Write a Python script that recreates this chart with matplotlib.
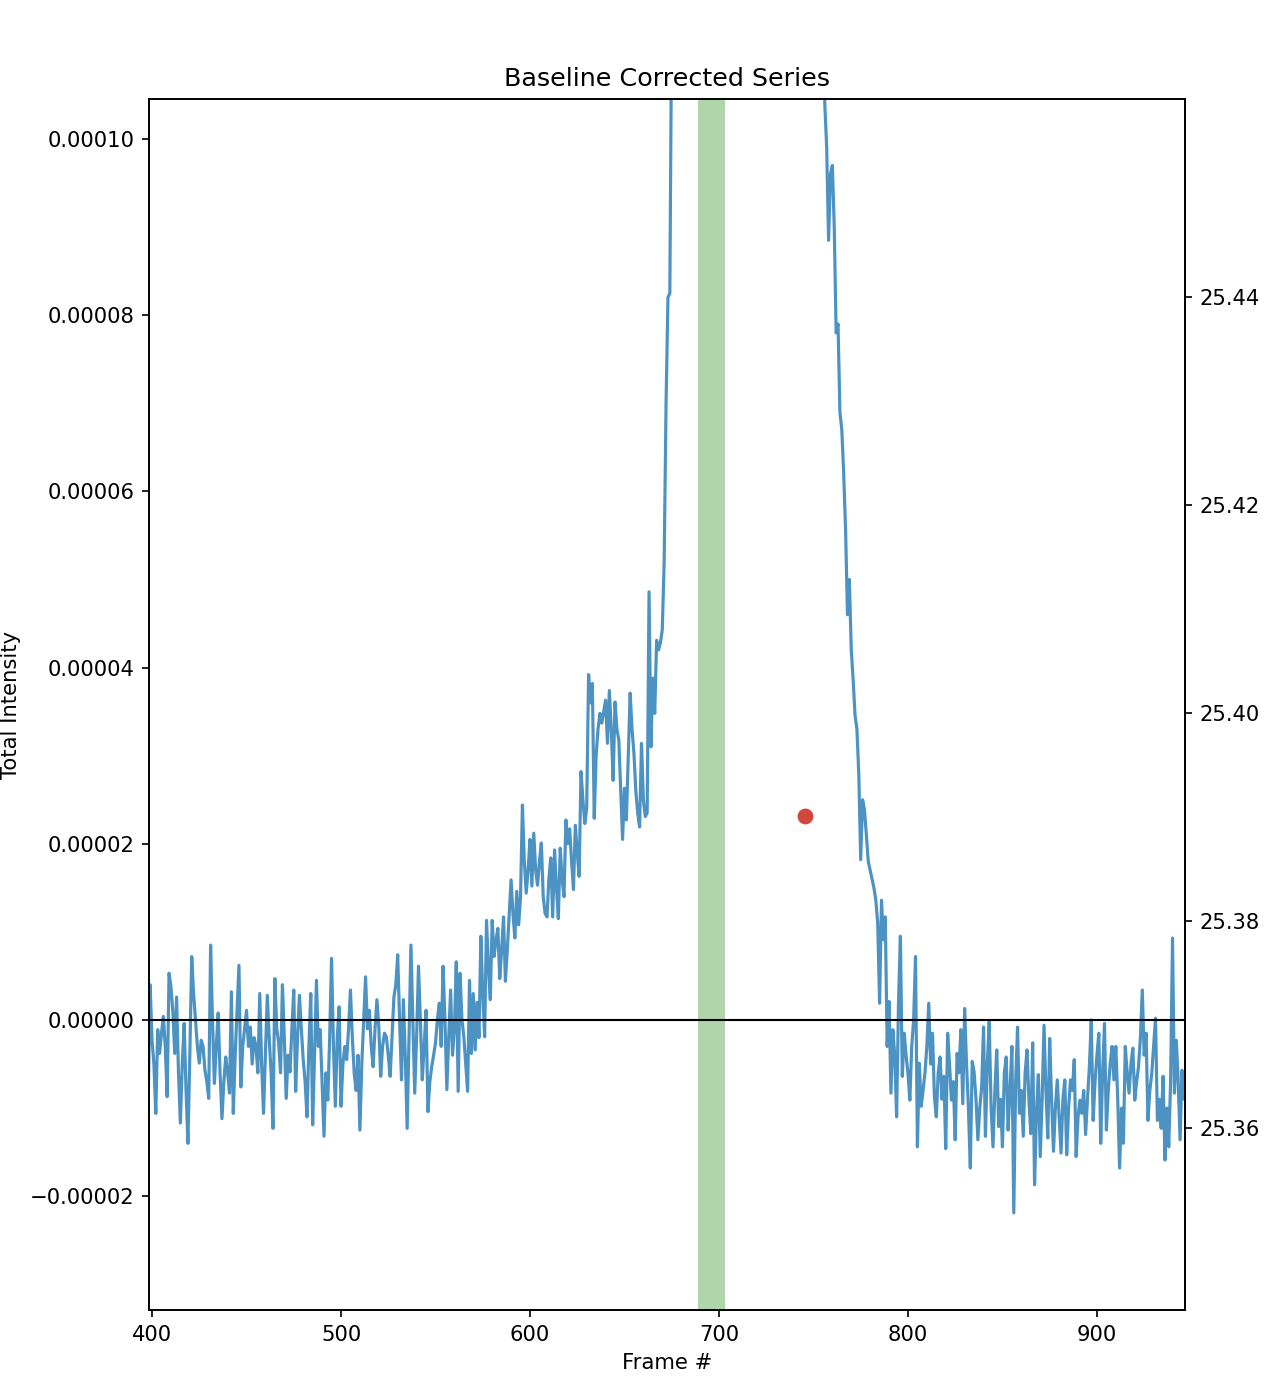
import numpy as np
import matplotlib
matplotlib.use("Agg")
import matplotlib.pyplot as plt

# Baseline-corrected total intensity, in units of 1e-6, one value per frame
start_frame = 398
baseline_left = [
    -9, 4, -2.3, -5, -10.6, -1.1, -3.8, -1.5, 0.4, -3,
    -8.7, 5.3, 3.8, 1, -3.8, 2.6, -6, -11.7, -5, -0.4,
    -8, -14, -4, 7.2, 3, 0, -3, -4.9, -2.3, -3,
    -5.7, -7, -8.9, 8.5, 0, -7.2, -3, 0.8, -6, -11.2,
    -7, -4.2, -6, -8.3, 3.2, -10.6, -4, 1, 6.2, -7.6,
    -3, -1, 1.1, -3, -0.8, -5, -2, -3, -6, 3,
    -5, -10.6, -4, 2.8, -2, -6, -12.3, 4.7, -1, -2.6,
    -6, 4, -2, -8.9, -4, -5.9, -1, 3.4, -8.1, -2,
    2.8, -1, -4.5, -7, -11, -3, 3, -11.9, -4, 4.5,
    -3, -1.1, -7, -13.2, -6, -9.1, -2, 7, -3, -9.8,
    -2, 1.5, -9.8, -5, -3, -4.5, -1, 3.4, -2, -6.1,
    -8, -4, -12.5, -5, 0, 4.9, -1, 1.1, -3, -5.3,
    -1, 2.3, -0.8, -6.4, -3, -1.5, -1.9, -4, -6.4, -2,
    2.6, 4, 7.4, 0, -6.8, 2.3, -4, -12.3, -2, 8.5,
    0, -8.3, -2, 6.1, 0, -6.8, -3, 1.1, -10.4, -7,
    -5.3, -4, -2.6, 0, 1.9, -3, 6.1, 0, -7.9, -2,
    3.4, -4, -1, 6.6, -8.1, 5.3, 0, -1.9, -5, -8.1,
]
rise = [
    4.5, -3.8, 3, -3.4, 2, -2, 9.5, 3, -1.9, 11.3,
    6, 2.3, 11.3, 7.2, 9, 10.4, 4.7, 8, 11.7, 4.4,
    8, 12, 15.9, 12, 9.3, 14.6, 10.8, 14, 24.4, 18,
    14.4, 17, 20.5, 15.2, 21.2, 17, 15.3, 18, 20.1, 14,
    12.1, 11.7, 16, 18.4, 11.7, 19.3, 15, 11.5, 19.5, 16,
    14, 22.7, 20, 21.7, 18, 14.8, 22.1, 19, 16.3, 28.2,
    25, 22.3, 24, 39.2, 36, 38.2, 22.9, 30, 33, 34.8,
    33.7, 35, 36.3, 31.4, 37.4, 33, 27.2, 36.1, 33, 31.8,
    26, 20.5, 26.3, 22.7, 30, 37.1, 33, 30.3, 26, 23.5,
    21.9, 31.4, 25, 23.1, 23.5, 48.6, 31, 38.8, 34.8, 43.1,
    42, 42.8, 44.3, 52, 70, 82, 82.5, 115,
]
peak = [
    150, 190, 235, 285, 340, 395, 450, 505, 555, 600,
    640, 675, 705, 730, 750, 765, 778, 788, 795, 800,
    803, 805, 806, 806, 805, 803, 800, 796, 791, 785,
    778, 770, 761, 751, 740, 728, 715, 701, 686, 670,
    653, 635, 616, 597, 577, 556, 535, 513, 491, 469,
    447, 425, 403, 381, 360, 339, 318, 298, 279, 261,
    244, 228, 213, 199, 186, 174, 163, 153, 144, 136,
    129, 123, 118, 114, 111, 108, 106, 110, 113, 120,
]
decay_and_baseline_right = [
    104, 99, 88.5, 96, 97, 90, 78, 79, 69, 67,
    62, 55.6, 46, 50, 42, 38.6, 34.6, 33, 27.8, 18.2,
    25, 23.8, 21, 18, 17, 16, 15, 13.6, 11, 1.9,
    13.6, 9.1, 11.7, -3, 2.1, -8.3, -1.1, -4, -11, 2,
    9.5, -6.4, -1.5, -4, -6, -9.1, -3, 0, 7.2, -14.4,
    -4.9, -9.8, -8, -6, -3, 1.9, -5, -1.5, -8.7, -11,
    -6, -4.2, -9, -6.4, -14.6, -1.5, -5, -9.1, -7, -13.6,
    -3.8, -6, -1.1, -9.5, 1.3, -5, -10, -16.8, -4.7, -5.9,
    -9, -13.6, -10, -7.6, -0.8, -13.2, -5, -0.2, -10, -14.4,
    -8, -3.4, -12.1, -9, -14.4, -6, -4.2, -12.5, -8, -3,
    -21.9, -7, -0.8, -10.6, -8, -13.2, -6, -3.4, -9, -12.9,
    -2.6, -18.7, -10.6, -6.2, -15.5, -9, -0.6, -8, -13.4, -2.1,
    -9, -14.9, -10, -6.8, -11, -15.1, -9, -6.8, -15.3, -10,
    -6.8, -8, -4.5, -15.5, -11, -9.1, -10.6, -8, -13, -9,
    -5.3, 0, -11.4, -7, -4, -1.5, -14, -6, -0.4, -12.5,
    -8, -5, -3, -6.8, -3, -9, -16.8, -10, -14, -3,
    -6, -8.3, -5, -3.2, -9.1, -7, -5.3, -2, 3.4, -4,
    -1.5, -11.4, -8, -6.1, -3, 0.2, -11.4, -9, -12.3, -6.4,
    -15.9, -10, -14.4, -6.8, 9.3, -8.3, -2.3, -7, -13.6, -5.7,
    -9, -6,
]

# Highlighted frame window and marker on secondary axis
span_frames = [689, 703]
marker_frame = [745.5]
marker_value = [25.3901]

values = np.array(baseline_left + rise + peak + decay_and_baseline_right) * 1e-6
frames = np.arange(start_frame, start_frame + len(values))

W, H, DPI = 1268, 1380, 152
fig = plt.figure(figsize=(W / DPI, H / DPI), dpi=DPI)
ax = fig.add_axes([149 / W, 1 - 1310 / H, (1185 - 149) / W, (1310 - 99) / H])

ax.plot(frames, values, color="C0", alpha=0.8, lw=1.5)
ax.axhline(0, color="black", lw=1.0)
ax.axvspan(span_frames[0], span_frames[1], color="#b0d5aa", lw=0)
ax.set_xlim(398.4, 946.6)
ax.set_ylim(-3.292e-5, 1.0454e-4)
ax.set_title("Baseline Corrected Series")
ax.set_xlabel("Frame #")
ax.set_ylabel("Total Intensity")

ax2 = ax.twinx()
ax2.plot(marker_frame, marker_value, "o", color="#d1483a", markersize=6.5)
ax2.set_ylim(25.3425, 25.4591)

fig.savefig("out.png", dpi=DPI)
